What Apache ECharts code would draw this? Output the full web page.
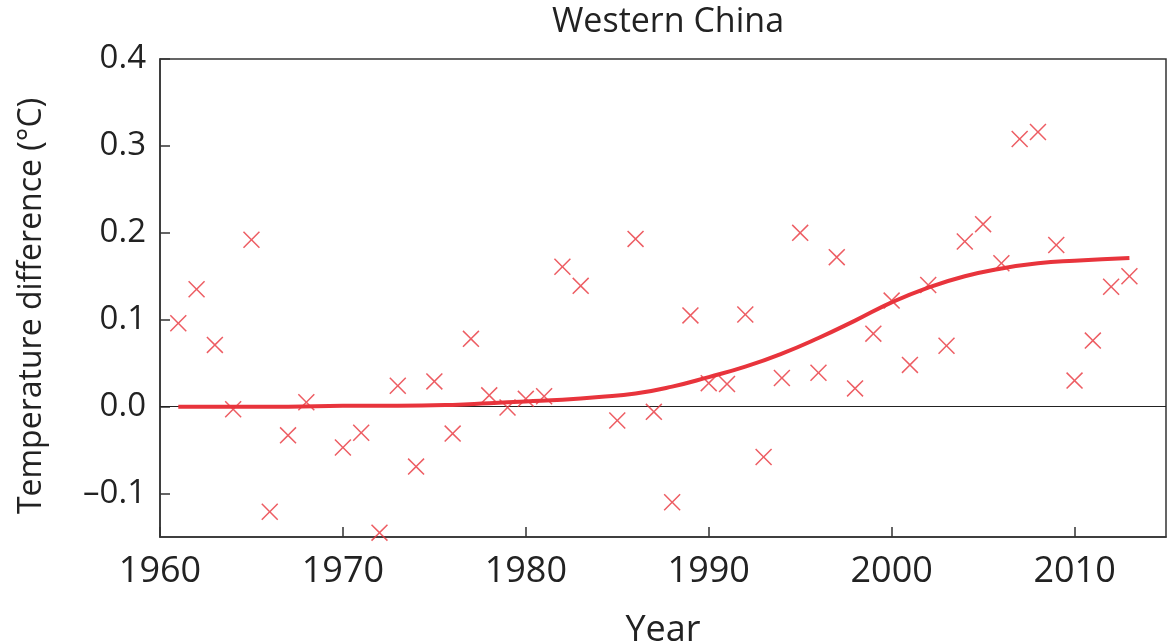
<!DOCTYPE html>
<html>
<head>
<meta charset="utf-8">
<title>Western China</title>
<script src="https://cdn.jsdelivr.net/npm/echarts@6/dist/echarts.min.js"></script>
<style>
  html, body { margin: 0; padding: 0; background: #fff; }
  #chart { width: 1176px; height: 644px; }
</style>
</head>
<body>
<div id="chart"></div>
<script>
// Annual temperature difference observations (°C)
const years = [1961, 1962, 1963, 1964, 1965, 1966, 1967, 1968, 1970, 1971,
               1972, 1973, 1974, 1975, 1976, 1977, 1978, 1979, 1980, 1981,
               1982, 1983, 1985, 1986, 1987, 1988, 1989, 1990, 1991, 1992,
               1993, 1994, 1995, 1996, 1997, 1998, 1999, 2000, 2001, 2002,
               2003, 2004, 2005, 2006, 2007, 2008, 2009, 2010, 2011, 2012, 2013];
const diffs = [0.096, 0.135, 0.071, -0.003, 0.192, -0.121, -0.033, 0.005, -0.047, -0.030,
               -0.145, 0.024, -0.069, 0.029, -0.031, 0.078, 0.013, -0.001, 0.009, 0.012,
               0.161, 0.139, -0.016, 0.193, -0.006, -0.110, 0.105, 0.027, 0.026, 0.106,
               -0.058, 0.033, 0.200, 0.039, 0.172, 0.021, 0.084, 0.122, 0.048, 0.140,
               0.070, 0.190, 0.210, 0.165, 0.308, 0.316, 0.186, 0.030, 0.076, 0.138, 0.150];

// Fitted trend curve
const fitYears = [1961, 1964, 1967, 1970, 1973, 1976, 1978, 1980, 1982, 1984, 1986, 1988, 1990,
                  1992, 1994, 1996, 1998, 2000, 2002, 2004, 2006, 2008, 2010, 2013];
const fitVals  = [0.000, 0.000, 0.000, 0.001, 0.001, 0.002, 0.004, 0.006, 0.008, 0.011, 0.015, 0.023, 0.034,
                  0.046, 0.061, 0.079, 0.099, 0.120, 0.137, 0.150, 0.159, 0.165, 0.168, 0.171];

// Axis ranges
const xMin = 1960, xMax = 2015, xStep = 10;
const yMin = -0.15, yMax = 0.4;

const red = '#e8343c';
const ink = '#222222';
const font = '"Open Sans", "Noto Sans", sans-serif';

const scatterData = years.map((y, i) => [y, diffs[i]]);
const fitData = fitYears.map((y, i) => [y, fitVals[i]]);

const crossPath = 'path://M0,1L1,0L8,7L15,0L16,1L9,8L16,15L15,16L8,9L1,16L0,15L7,8Z';

const chart = echarts.init(document.getElementById('chart'), null, { renderer: 'canvas' });
chart.setOption({
  animation: false,
  backgroundColor: '#ffffff',
  title: {
    text: 'Western China',
    left: 663,
    textAlign: 'center',
    top: 0,
    textStyle: { fontFamily: font, fontSize: 34, fontWeight: 'normal', color: ink }
  },
  grid: {
    left: 160, right: 10, top: 59, bottom: 107,
    outerBoundsMode: 'none',
    containLabel: false,
    show: true, borderColor: '#333', borderWidth: 1.5, backgroundColor: 'transparent'
  },
  xAxis: {
    type: 'value',
    min: xMin, max: xMax, interval: xStep,
    name: 'Year',
    nameLocation: 'middle',
    nameGap: 76,
    nameTextStyle: { fontFamily: font, fontSize: 36, color: ink },
    axisLine: { show: true, onZero: false, lineStyle: { color: '#333', width: 1.5 } },
    axisTick: { show: true, inside: true, length: 10, lineStyle: { color: '#333', width: 1.5 } },
    axisLabel: {
      show: true, margin: 17, showMaxLabel: false,
      fontFamily: font, fontSize: 36, color: ink,
      formatter: v => String(v)
    },
    splitLine: { show: false }
  },
  yAxis: {
    type: 'value',
    min: yMin, max: yMax, splitNumber: 5,
    name: 'Temperature difference (°C)',
    nameLocation: 'middle',
    nameGap: 112,
    nameTextStyle: { fontFamily: font, fontSize: 32, color: ink, padding: [0, 16, 0, 0] },
    axisLine: { show: true, lineStyle: { color: '#333', width: 1.5 } },
    axisTick: { show: true, inside: true, length: 10, lineStyle: { color: '#333', width: 1.5 } },
    axisLabel: {
      show: true, margin: 14, showMinLabel: false,
      fontFamily: font, fontSize: 33, color: ink,
      formatter: v => {
        if (Math.abs(v - yMin) < 1e-9) return '';
        const r = Math.round(v * 10) / 10;
        return r < 0 ? '\u2013' + Math.abs(r).toFixed(1) : r.toFixed(1);
      }
    },
    splitLine: { show: false }
  },
  series: [
    {
      type: 'scatter',
      data: scatterData,
      symbol: crossPath,
      symbolSize: 17,
      itemStyle: { color: red },
      z: 3,
      markLine: {
        silent: true,
        symbol: ['none', 'none'],
        label: { show: false },
        lineStyle: { color: ink, width: 1.2, type: 'solid' },
        data: [{ yAxis: 0 }],
        z: 2
      }
    },
    {
      type: 'line',
      data: fitData,
      smooth: true,
      showSymbol: false,
      symbol: 'none',
      lineStyle: { color: red, width: 4 },
      z: 4
    }
  ]
});
</script>
</body>
</html>
